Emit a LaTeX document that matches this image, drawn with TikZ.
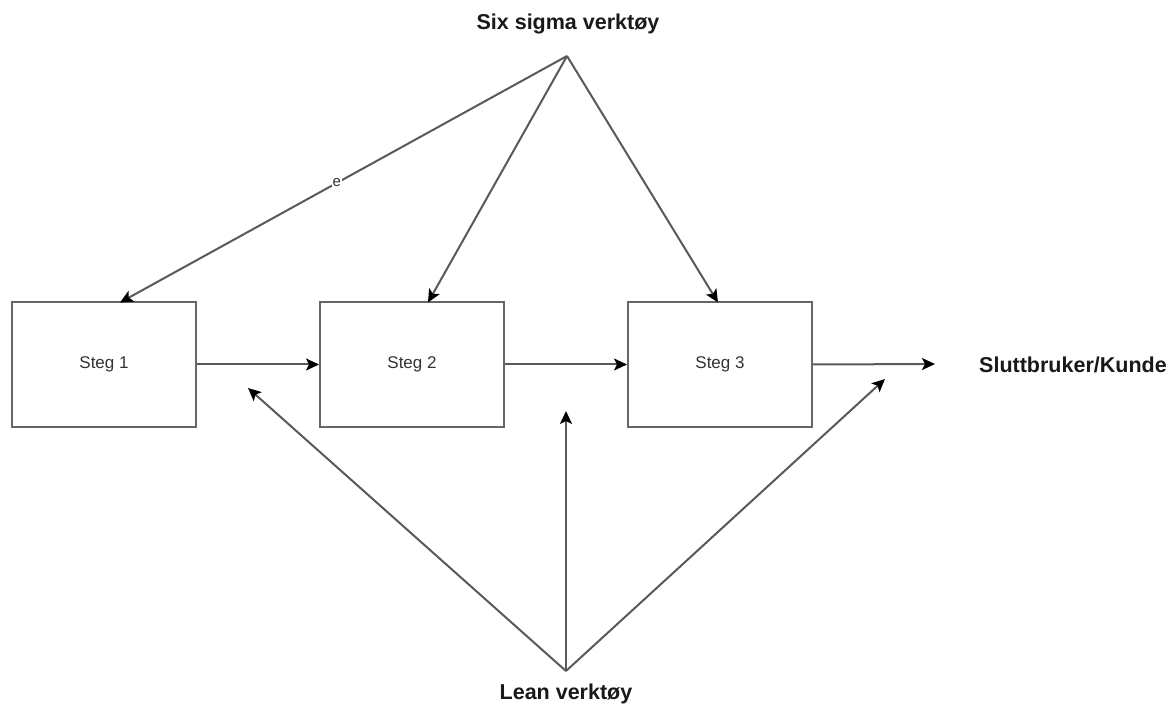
\documentclass[tikz,border=0pt]{standalone}
\usepackage{fontspec}
\setmainfont{Liberation Sans}
\usetikzlibrary{arrows.meta}
\begin{document}
\begin{tikzpicture}[x=1pt,y=-1pt,
  stepbox/.style={draw=black!60,line width=2pt,minimum width=184pt,minimum height=124pt,inner sep=0pt,font=\fontsize{17}{20}\selectfont,text=black!80},
  conn/.style={draw=black!65,line width=2pt,-{Stealth[length=13pt,width=12pt,inset=3pt,fill=black,color=black]}},
  biglabel/.style={font=\fontsize{21.5}{25}\selectfont\bfseries,text=black!90,inner sep=0pt}]
\useasboundingbox (0,0) rectangle (1170,708);
\node[stepbox] (s1) at (104,364.5) {Steg 1};
\node[stepbox] (s2) at (412,364.5) {Steg 2};
\node[stepbox] (s3) at (720,364.5) {Steg 3};
\node[biglabel] (six) at (568,24) {Six sigma verktøy};
\node[biglabel] (lean) at (566,694) {Lean verktøy};
\node[biglabel,anchor=west] (kunde) at (979,365) {Sluttbruker/Kunde};
\coordinate (top) at (567,56);
\coordinate (bot) at (566,671);
\coordinate (t1) at (120,302.5);
\coordinate (t2) at (428,302.5);
\coordinate (t3) at (718,302.5);
\coordinate (end) at (935,364);
\coordinate (l1) at (248,388);
\coordinate (l2) at (566,411);
\coordinate (l3) at (885,379);
\draw[conn] (top) -- node[pos=0.515,fill=white,inner sep=1pt,font=\fontsize{15}{17}\selectfont,text=black!80] (elabel) {e} (t1);
\draw[conn] (top) -- (t2);
\draw[conn] (top) -- (t3);
\draw[conn] (s1.east) -- (s2.west);
\draw[conn] (s2.east) -- (s3.west);
\draw[conn] (s3.east) -- (end);
\draw[conn] (bot) -- (l1);
\draw[conn] (bot) -- (l2);
\draw[conn] (bot) -- (l3);
\end{tikzpicture}
\end{document}
